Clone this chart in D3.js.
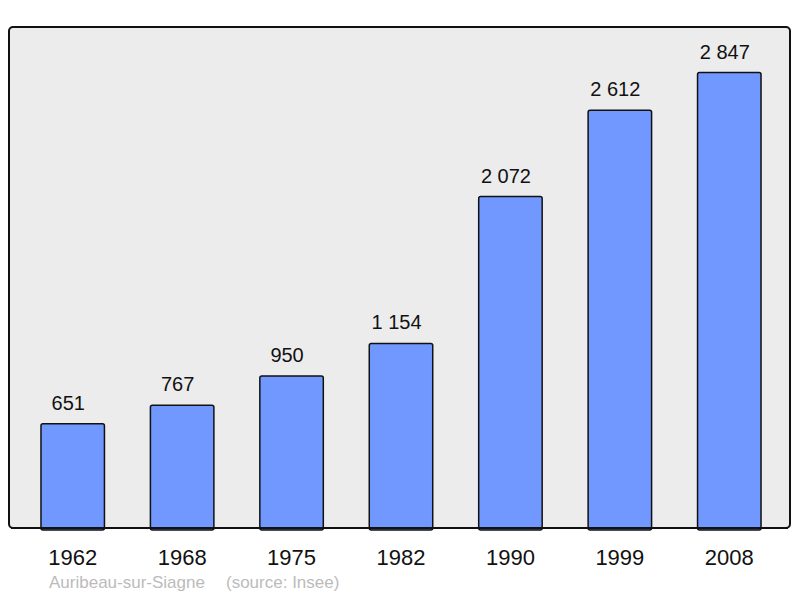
<!DOCTYPE html>
<html lang="fr">
<head>
    <meta charset="UTF-8">
    <title>Auribeau-sur-Siagne</title>
    <style>
        body {
            margin: 0;
            background: #fff;
            font-family: "Liberation Sans", Arial, sans-serif;
        }

        .panel {
            fill: #ececec;
            stroke: #111;
            stroke-width: 2;
        }

        .bar {
            fill: #7098ff;
            stroke: #111;
            stroke-width: 1.5;
        }

        .value {
            font-size: 20px;
            fill: #111;
        }

        .year text {
            font-size: 22px;
            fill: #111;
        }

        .source {
            font-size: 17px;
            fill: #bbb;
        }
    </style>
</head>
<body>
    <div id="chart"></div>

    <script src="https://d3js.org/d3.v7.min.js"></script>
    <script>
        const years = ["1962", "1968", "1975", "1982", "1990", "1999", "2008"];
        const population = [651, 767, 950, 1154, 2072, 2612, 2847];
        const valueLabels = ["651", "767", "950", "1 154", "2 072", "2 612", "2 847"];
        const commune = "Auribeau-sur-Siagne";
        const source = "(source: Insee)";

        const width = 800;
        const height = 598;
        const panel = { left: 9, top: 27, right: 790, bottom: 528 };

        const data = years.map((y, i) => ({ year: y, value: population[i], label: valueLabels[i] }));

        const svg = d3.select('#chart')
            .append('svg')
            .attr('width', width)
            .attr('height', height);

        const x = d3.scaleBand()
            .domain(years)
            .range([18, 784])
            .paddingInner(0.42)
            .paddingOuter(0.21);

        // top of panel sits at 110% of the max
        const y = d3.scaleLinear()
            .domain([0, d3.max(population) * 1.1])
            .range([panel.bottom, panel.top]);

        svg.append('rect')
            .attr('class', 'panel')
            .attr('x', panel.left)
            .attr('y', panel.top)
            .attr('width', panel.right - panel.left)
            .attr('height', panel.bottom - panel.top)
            .attr('rx', 4);

        svg.selectAll('.bar')
            .data(data)
            .enter()
                .append('rect')
                .attr('class', 'bar')
                .attr('x', d => x(d.year))
                .attr('y', d => y(d.value))
                .attr('width', x.bandwidth())
                .attr('height', d => y(0) - y(d.value) + 2)
                .attr('rx', 2);

        // redraw panel bottom line over bar bottoms
        svg.append('line')
            .attr('x1', panel.left + 2)
            .attr('x2', panel.right - 2)
            .attr('y1', panel.bottom)
            .attr('y2', panel.bottom)
            .attr('stroke', '#111')
            .attr('stroke-width', 2);

        // labels sit a little left of the bar centre in the original
        svg.selectAll('.value')
            .data(data)
            .enter()
                .append('text')
                .attr('class', 'value')
                .attr('x', d => x(d.year) + x.bandwidth() / 2 - 4.5)
                .attr('y', d => y(d.value) - 14)
                .attr('text-anchor', 'middle')
                .text(d => d.label);

        const xAxis = d3.axisBottom(x)
            .tickSize(0)
            .tickPadding(21);

        svg.append('g')
            .attr('class', 'year')
            .attr('transform', `translate(0, ${panel.bottom})`)
            .call(xAxis)
            .select('.domain').remove();

        svg.selectAll('.year text')
            .attr('font-family', null)
            .attr('font-size', null);

        svg.append('text')
            .attr('class', 'source')
            .attr('x', 49)
            .attr('y', 588)
            .text(commune);

        svg.append('text')
            .attr('class', 'source')
            .attr('x', 226)
            .attr('y', 588)
            .text(source);
    </script>
</body>
</html>
